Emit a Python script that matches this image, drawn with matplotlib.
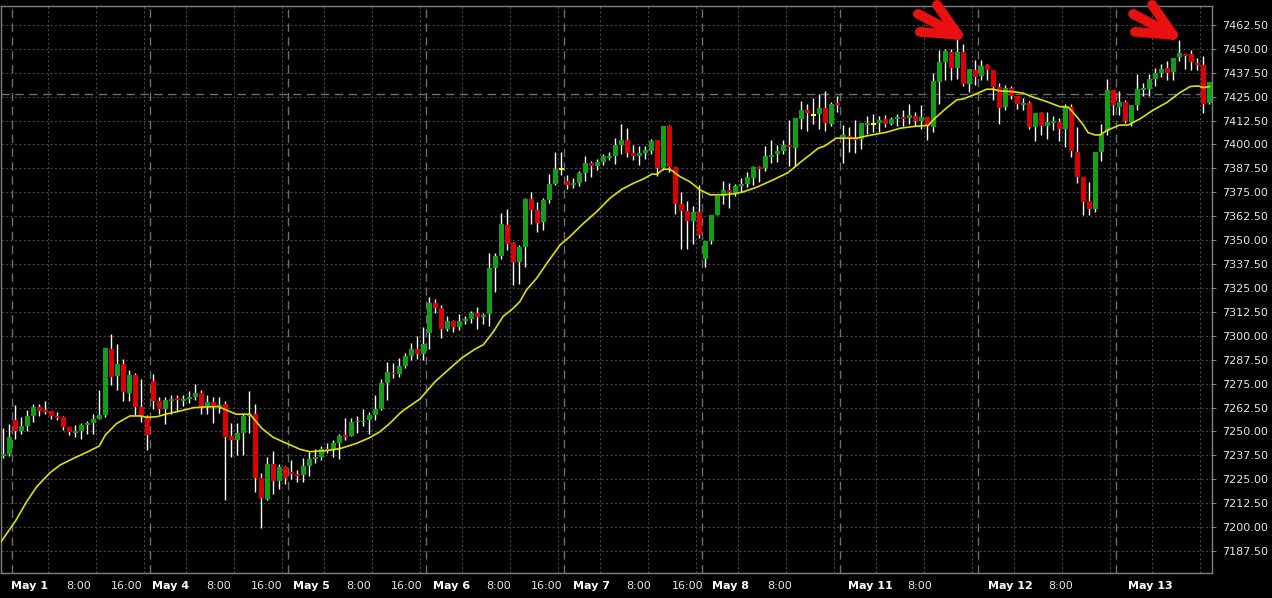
import matplotlib
matplotlib.use('Agg')
import matplotlib.pyplot as plt
import numpy as np

# hourly candles, one list per field (index = candle number)
opens = [7237.4, 7238.4, 7256.0, 7250.2, 7252.9, 7258.1, 7262.6, 7261.2, 7260.7, 7258.1,
         7257.6, 7252.3, 7249.4, 7250.2, 7253.3, 7254.6, 7256.7, 7258.6, 7293.1, 7279.2,
         7285.4, 7270.1, 7279.5, 7262.6, 7257.7, 7276.3, 7265.9, 7261.7, 7266.1, 7267.5,
         7266.1, 7267.0, 7268.0, 7270.1, 7263.3, 7265.4, 7263.0, 7264.3, 7247.8, 7245.7,
         7249.2, 7258.1, 7259.1, 7225.8, 7214.8, 7232.9, 7224.2, 7231.4, 7228.7, 7227.8,
         7227.2, 7231.9, 7235.7, 7236.8, 7240.6, 7240.3, 7243.8, 7248.1, 7247.6, 7254.7,
         7254.7, 7255.9, 7258.4, 7261.7, 7275.3, 7280.7, 7279.9, 7284.3, 7289.4, 7293.2,
         7290.5, 7301.4, 7317.0, 7314.6, 7303.6, 7307.8, 7304.8, 7307.8, 7308.8, 7311.9,
         7309.8, 7311.4, 7335.5, 7341.8, 7358.0, 7348.5, 7338.8, 7346.5, 7371.6, 7365.8,
         7359.5, 7371.0, 7379.4, 7387.0, 7381.0, 7378.9, 7379.9, 7385.1, 7390.4, 7389.0,
         7390.9, 7393.0, 7394.0, 7399.8, 7402.4, 7395.6, 7394.0, 7395.6, 7396.7, 7402.4,
         7387.7, 7409.7, 7388.3, 7368.9, 7365.2, 7360.0, 7364.7, 7340.2, 7349.6, 7363.2,
         7373.2, 7376.3, 7374.2, 7378.4, 7379.4, 7382.5, 7388.3, 7387.7, 7393.5, 7395.0,
         7396.7, 7399.8, 7398.2, 7413.4, 7418.1, 7415.5, 7416.0, 7419.1, 7410.7, 7421.7,
         7403.9, 7404.4, 7403.4, 7402.9, 7410.2, 7410.7, 7411.3, 7413.4, 7410.7, 7413.4,
         7414.4, 7413.9, 7414.9, 7412.3, 7414.4, 7409.2, 7432.7, 7443.2, 7448.4, 7440.0,
         7448.4, 7431.6, 7439.0, 7435.8, 7441.6, 7439.0, 7430.1, 7419.7, 7429.5, 7425.4,
         7420.7, 7421.7, 7409.2, 7416.5, 7409.7, 7411.3, 7411.8, 7408.2, 7419.7, 7396.1,
         7383.0, 7370.5, 7366.3, 7396.1, 7407.1, 7428.5, 7419.6, 7422.2, 7411.9, 7420.7,
         7428.5, 7429.0, 7434.2, 7437.4, 7440.0, 7437.9, 7445.7, 7447.3, 7447.3, 7442.6,
         7441.6, 7421.7]
highs = [7252.0, 7253.7, 7263.8, 7257.6, 7261.2, 7264.3, 7264.3, 7265.9, 7260.7, 7260.3,
         7258.1, 7252.3, 7253.3, 7254.2, 7255.4, 7259.1, 7271.7, 7293.6, 7300.9, 7295.6,
         7288.0, 7282.1, 7280.8, 7277.4, 7258.6, 7280.0, 7268.0, 7268.0, 7268.9, 7268.9,
         7268.9, 7271.0, 7274.8, 7271.7, 7268.8, 7268.2, 7268.2, 7266.1, 7254.2, 7254.6,
         7259.8, 7271.1, 7264.3, 7228.4, 7236.4, 7239.7, 7233.0, 7232.0, 7235.0, 7229.8,
         7235.9, 7239.4, 7241.0, 7242.4, 7243.7, 7245.5, 7248.5, 7256.9, 7256.9, 7258.0,
         7261.7, 7260.1, 7269.0, 7277.4, 7286.3, 7286.0, 7288.2, 7291.0, 7296.1, 7300.0,
         7304.8, 7320.1, 7319.1, 7316.1, 7310.4, 7308.3, 7311.4, 7310.4, 7313.0, 7315.1,
         7311.9, 7343.3, 7343.3, 7364.2, 7366.3, 7349.1, 7347.5, 7372.1, 7375.2, 7370.0,
         7372.1, 7384.6, 7396.2, 7396.2, 7384.1, 7382.5, 7386.2, 7394.0, 7391.4, 7392.4,
         7394.9, 7396.1, 7403.4, 7410.8, 7408.7, 7399.8, 7399.3, 7399.3, 7402.9, 7402.4,
         7409.7, 7410.2, 7388.3, 7375.2, 7370.5, 7367.9, 7378.9, 7349.6, 7363.2, 7373.2,
         7381.0, 7379.9, 7379.4, 7382.5, 7385.6, 7388.8, 7388.8, 7399.3, 7402.4, 7399.8,
         7402.4, 7412.8, 7413.9, 7422.8, 7421.2, 7424.3, 7426.4, 7428.0, 7422.2, 7425.4,
         7410.2, 7409.2, 7412.8, 7411.3, 7414.9, 7416.0, 7414.9, 7415.4, 7414.4, 7416.0,
         7418.1, 7421.2, 7417.0, 7420.7, 7414.4, 7437.4, 7449.5, 7450.0, 7450.0, 7455.2,
         7452.6, 7439.5, 7444.2, 7444.2, 7442.1, 7439.0, 7432.2, 7431.0, 7430.6, 7425.4,
         7424.3, 7422.8, 7416.5, 7417.0, 7417.0, 7414.9, 7413.9, 7421.2, 7421.2, 7409.2,
         7383.0, 7380.4, 7396.1, 7410.7, 7434.2, 7428.5, 7428.0, 7423.3, 7420.7, 7436.8,
         7432.2, 7436.8, 7440.0, 7442.1, 7443.7, 7445.2, 7454.6, 7447.3, 7449.4, 7445.2,
         7446.3, 7432.7]
lows = [7236.3, 7237.4, 7246.1, 7248.7, 7250.2, 7255.0, 7258.1, 7259.1, 7256.5, 7256.0,
        7250.8, 7248.0, 7246.9, 7246.1, 7248.7, 7248.7, 7256.3, 7257.5, 7274.3, 7271.7,
        7265.9, 7265.9, 7258.6, 7255.1, 7240.3, 7261.7, 7259.1, 7254.0, 7259.1, 7260.1,
        7263.3, 7265.1, 7266.4, 7259.1, 7259.3, 7254.6, 7259.8, 7213.9, 7236.8, 7237.7,
        7237.7, 7249.0, 7218.5, 7199.5, 7213.9, 7217.5, 7220.0, 7222.7, 7225.0, 7223.8,
        7223.6, 7226.8, 7233.5, 7234.9, 7238.5, 7236.8, 7235.8, 7245.5, 7247.6, 7249.3,
        7252.8, 7248.6, 7256.0, 7261.2, 7266.4, 7278.1, 7278.6, 7283.0, 7287.5, 7288.0,
        7287.5, 7293.2, 7312.1, 7299.1, 7302.6, 7302.0, 7303.0, 7306.2, 7306.6, 7303.6,
        7306.2, 7305.2, 7322.9, 7340.2, 7344.9, 7326.3, 7327.3, 7336.2, 7358.5, 7354.3,
        7355.3, 7369.4, 7378.8, 7384.1, 7376.8, 7377.3, 7378.3, 7381.0, 7383.0, 7386.7,
        7389.3, 7392.0, 7389.9, 7395.1, 7393.5, 7391.9, 7389.3, 7392.5, 7395.1, 7383.5,
        7386.7, 7385.6, 7363.7, 7345.4, 7345.4, 7348.0, 7351.2, 7336.0, 7348.0, 7363.0,
        7369.0, 7366.8, 7373.2, 7375.2, 7377.8, 7378.9, 7380.4, 7386.2, 7390.4, 7390.9,
        7395.1, 7388.8, 7388.8, 7408.2, 7407.1, 7410.8, 7408.2, 7407.1, 7409.7, 7417.0,
        7390.3, 7396.1, 7395.6, 7397.7, 7405.5, 7406.5, 7406.5, 7409.2, 7410.2, 7409.7,
        7409.7, 7410.7, 7409.7, 7408.2, 7402.4, 7406.5, 7421.2, 7433.7, 7433.7, 7434.2,
        7430.6, 7427.5, 7431.1, 7433.7, 7433.7, 7423.3, 7410.7, 7418.0, 7423.8, 7418.6,
        7418.1, 7408.2, 7401.9, 7405.0, 7402.9, 7407.6, 7401.9, 7398.7, 7393.5, 7379.9,
        7363.2, 7363.2, 7364.7, 7391.3, 7405.0, 7415.5, 7415.5, 7411.3, 7409.7, 7418.1,
        7425.4, 7425.4, 7430.6, 7435.3, 7433.7, 7433.7, 7443.7, 7439.5, 7439.0, 7439.0,
        7416.5, 7421.2]
closes = [7238.4, 7247.1, 7250.2, 7252.9, 7258.1, 7262.6, 7260.7, 7260.3, 7258.2, 7257.2,
          7252.5, 7249.9, 7250.2, 7253.3, 7254.6, 7256.7, 7258.6, 7293.6, 7278.6, 7285.4,
          7270.8, 7279.5, 7262.6, 7257.7, 7248.1, 7265.9, 7261.7, 7266.4, 7267.0, 7266.4,
          7267.0, 7268.0, 7270.1, 7263.0, 7265.4, 7263.0, 7263.8, 7247.3, 7245.7, 7249.2,
          7258.1, 7259.1, 7225.8, 7215.2, 7232.9, 7224.2, 7231.4, 7225.8, 7227.8, 7226.9,
          7231.9, 7235.6, 7236.8, 7240.6, 7239.8, 7243.8, 7247.6, 7247.1, 7254.9, 7255.4,
          7255.4, 7258.4, 7261.7, 7275.3, 7281.0, 7279.8, 7284.3, 7289.4, 7293.2, 7290.5,
          7295.8, 7317.0, 7314.7, 7303.6, 7307.8, 7304.8, 7307.8, 7308.8, 7311.9, 7309.8,
          7310.9, 7335.5, 7341.8, 7358.5, 7348.0, 7338.8, 7346.5, 7371.6, 7365.8, 7359.0,
          7371.0, 7379.4, 7387.3, 7387.0, 7378.9, 7379.9, 7385.1, 7390.4, 7389.0, 7390.9,
          7394.0, 7394.0, 7399.8, 7402.4, 7395.6, 7394.0, 7395.6, 7397.2, 7401.9, 7387.7,
          7409.7, 7388.3, 7368.9, 7365.2, 7360.0, 7364.7, 7352.7, 7349.6, 7363.2, 7373.2,
          7376.3, 7375.2, 7378.4, 7379.4, 7383.0, 7388.3, 7387.2, 7394.0, 7394.5, 7396.7,
          7399.8, 7398.7, 7413.9, 7418.1, 7416.5, 7415.5, 7419.1, 7411.3, 7421.2, 7420.7,
          7405.0, 7403.4, 7402.4, 7411.3, 7411.3, 7410.7, 7412.8, 7410.7, 7413.4, 7414.4,
          7413.4, 7415.4, 7412.3, 7414.4, 7409.7, 7433.2, 7443.2, 7448.9, 7440.0, 7448.4,
          7431.6, 7439.5, 7435.3, 7441.0, 7439.0, 7430.1, 7419.1, 7429.5, 7425.4, 7421.2,
          7421.7, 7409.2, 7416.5, 7409.7, 7411.8, 7412.3, 7408.2, 7419.7, 7396.7, 7383.0,
          7370.0, 7366.3, 7396.1, 7405.5, 7428.5, 7420.7, 7422.2, 7412.3, 7420.7, 7429.0,
          7429.5, 7434.2, 7437.4, 7439.5, 7437.4, 7445.2, 7447.8, 7446.3, 7443.2, 7441.6,
          7421.2, 7432.7]

# moving average (candle index, price)
ma_idx = [-0.55, 0.78, 2.12, 3.9, 5.57, 7.78, 9.45, 11.67, 13.9, 16.0, 17.0, 18.9, 21.1,
          22.8, 23.9, 25.6, 27.2, 29.45, 31.7, 33.6, 35.8, 37.2, 38.8, 41.1, 43.1, 45.0,
          47.2, 49.45, 51.1, 53.9, 56.1, 58.9, 61.1, 62.8, 64.45, 66.1, 66.95, 69.45, 71.95,
          74.45, 76.45, 78.6, 80.0, 81.7, 83.3, 85.0, 86.1, 87.2, 88.9, 90.6, 92.8, 94.45,
          96.7, 98.9, 101.1, 103.1, 105.0, 106.7, 108.1, 109.0, 110.0, 111.1, 112.8, 114.45,
          116.1, 117.8, 120.0, 121.7, 123.3, 125.6, 128.3, 130.8, 132.8, 134.45, 135.8,
          136.95, 138.8, 142.2, 143.9, 147.2, 149.45, 151.7, 154.2, 155.0, 156.95, 158.9,
          160.0, 161.7, 163.9, 165.0, 166.1, 168.3, 170.0, 171.7, 173.9, 176.1, 177.5,
          178.9, 180.0, 180.8, 181.95, 182.8, 183.9, 186.0, 187.5, 189.45, 191.7, 193.9,
          196.1, 197.8, 199.2, 200.0, 201.0]
ma_val = [7191.5, 7197.5, 7203.6, 7213.3, 7221.1, 7228.4, 7232.4, 7235.9, 7239.1, 7242.4,
          7248.1, 7254.2, 7258.1, 7258.1, 7257.4, 7257.7, 7259.1, 7260.7, 7262.4, 7262.8,
          7263.0, 7261.2, 7259.0, 7259.0, 7251.6, 7246.9, 7243.8, 7240.7, 7239.4, 7240.0,
          7241.0, 7243.8, 7246.8, 7249.9, 7254.3, 7259.5, 7261.6, 7267.0, 7276.0, 7283.0,
          7288.5, 7293.0, 7295.3, 7302.2, 7310.1, 7314.4, 7317.9, 7324.0, 7330.1, 7337.9,
          7347.5, 7351.9, 7358.8, 7364.9, 7371.9, 7376.6, 7379.7, 7382.0, 7384.5, 7384.5,
          7387.1, 7387.1, 7383.2, 7380.5, 7376.3, 7373.7, 7373.7, 7374.2, 7375.2, 7377.7,
          7381.5, 7385.3, 7390.6, 7394.6, 7398.0, 7399.3, 7403.3, 7403.3, 7404.5, 7406.4,
          7408.5, 7409.4, 7410.0, 7412.9, 7418.4, 7423.3, 7423.8, 7425.9, 7428.9, 7428.9,
          7428.0, 7427.6, 7426.8, 7424.7, 7422.4, 7419.8, 7419.5, 7414.6, 7410.2, 7406.2,
          7405.0, 7405.0, 7407.3, 7410.1, 7410.2, 7413.4, 7418.1, 7421.9, 7427.1, 7430.3,
          7430.6, 7429.7, 7430.3]

# bottom axis labels
xlabels = ['May 1', '8:00', '16:00', 'May 4', '8:00', '16:00', 'May 5', '8:00', '16:00',
           'May 6', '8:00', '16:00', 'May 7', '8:00', '16:00', 'May 8', '8:00',
           'May 11', '8:00', 'May 12', '8:00', 'May 13']
xlabel_pos = [1.28, 10.45, 17.95, 24.78, 33.78, 41.28, 48.28, 57.12, 64.62, 71.62, 80.45,
              87.95, 94.95, 103.78, 111.45, 118.12, 127.28, 140.78, 150.62, 164.12, 174.12,
              187.45]

day_starts = [2, 25, 48, 71, 94, 117, 140, 163, 186]
level_line = 7426.5
yticks = np.arange(7187.5, 7462.6, 12.5)

o = np.array(opens)
h = np.array(highs)
l = np.array(lows)
c = np.array(closes)
idx = np.arange(len(o))

fig = plt.figure(figsize=(12.72, 5.98), dpi=100, facecolor='black')
ax = fig.add_axes([1 / 1272, 1 - 573 / 598, 1211 / 1272, 567 / 598])
ax.set_facecolor('black')

# grid: dotted every 8 bars, dashed at each session start
for y in yticks:
    ax.axhline(y, color='#454545', lw=0.8, ls=(0, (2, 2)), zorder=0)
for d in day_starts:
    for off in [5.5, 13.5, 21.5]:
        if d + off < 201:
            ax.axvline(d + off, color='#454545', lw=0.8, ls=(0, (2, 2)), zorder=0)
    ax.axvline(d - 0.5, color='#6e6e6e', lw=1.0, ls=(0, (6, 4)), zorder=0)
ax.axhline(level_line, color='#6e6e6e', lw=1.0, ls=(0, (6, 4)), zorder=0)

# candles
up = c > o
down = c < o
flat = c == o
ax.vlines(idx, l, h, color='white', lw=1.0, zorder=2)
bw = 0.8
ax.bar(idx[up], c[up] - o[up], bottom=o[up], width=bw, color='#12a012', zorder=3)
ax.bar(idx[down], o[down] - c[down], bottom=c[down], width=bw, color='#dd0000', zorder=3)
ax.bar(idx[flat], 1.0, bottom=o[flat] - 0.5, width=bw, color='#ffff00', zorder=3)

ax.plot(ma_idx, ma_val, color='#e0e000', lw=1.2, zorder=4)

# red arrows pointing at the two highs
for tip in [(159.1, 7457.3), (194.95, 7457.3)]:
    for dx, dy in [(-15, 21.6), (-27.4, 2.2), (-28.8, 15.1)]:
        ax.annotate('', xy=tip, xytext=(dx, dy), textcoords='offset points',
                    annotation_clip=False,
                    arrowprops=dict(arrowstyle='-', color='#e81010', lw=7,
                                    shrinkA=0, shrinkB=0, capstyle='round'))

ax.set_xlim(-0.38, 201.45)
ax.set_ylim(7176.0, 7472.4)

ax.yaxis.tick_right()
ax.set_yticks(yticks)
ax.set_yticklabels(['%.2f' % v for v in yticks])
ax.tick_params(axis='y', colors='#808080', labelcolor='#e6e6e6', labelsize=8,
               length=3, pad=4)

ax.set_xticks(xlabel_pos)
ax.set_xticklabels(xlabels)
ax.tick_params(axis='x', length=0, labelsize=8, labelcolor='#e6e6e6', pad=6)
for t in ax.get_xticklabels():
    t.set_ha('left')
    if t.get_text().startswith('May'):
        t.set_fontweight('bold')
        t.set_color('white')

for s in ax.spines.values():
    s.set_color('#808080')
    s.set_linewidth(1.0)

fig.savefig('out.png', dpi=100, facecolor='black')
